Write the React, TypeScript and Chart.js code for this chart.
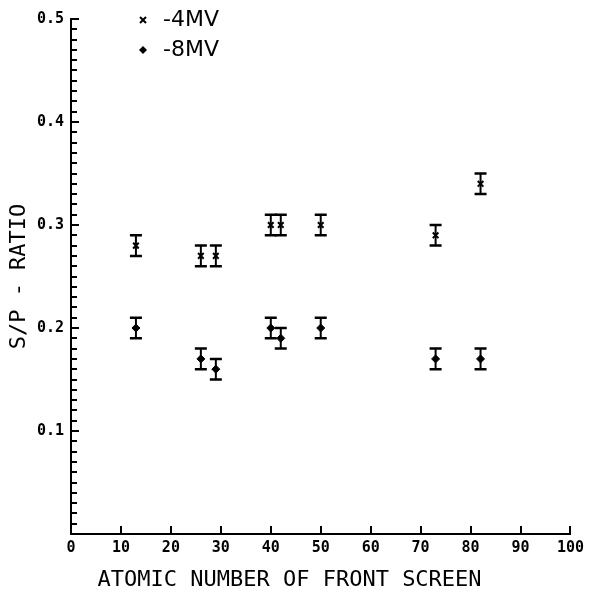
import React, { useEffect, useRef } from 'react';
import { Chart, registerables } from 'chart.js';

Chart.register(...registerables);

// ---- Data ----
const atomicNumbers = [13, 26, 29, 40, 42, 50, 73, 82];
const ratio4MV = [0.28, 0.27, 0.27, 0.30, 0.30, 0.30, 0.29, 0.34];
const ratio8MV = [0.20, 0.17, 0.16, 0.20, 0.19, 0.20, 0.17, 0.17];
const error4MV = [0.01, 0.01, 0.01, 0.01, 0.01, 0.01, 0.01, 0.01];
const error8MV = [0.01, 0.01, 0.01, 0.01, 0.01, 0.01, 0.01, 0.01];
const seriesLabels = ['-4MV', '-8MV'];
const xTitle = 'ATOMIC NUMBER OF FRONT SCREEN';
const yTitle = 'S/P - RATIO';

const INK = '#000000';

const isMajorY = (v: number) => Math.round(v * 100) % 10 === 0;

const errorBarPlugin = {
  id: 'errorBars',
  afterDatasetsDraw(chart: any) {
    const { ctx, scales } = chart;
    const x = scales.x;
    const y = scales.y;
    ctx.save();
    ctx.strokeStyle = INK;
    chart.data.datasets.forEach((ds: any) => {
      ds.data.forEach((p: any, i: number) => {
        const e = ds.errors[i];
        const px = x.getPixelForValue(p.x);
        const top = y.getPixelForValue(p.y + e);
        const bot = y.getPixelForValue(p.y - e);
        ctx.lineWidth = 2;
        ctx.beginPath();
        ctx.moveTo(px, top);
        ctx.lineTo(px, bot);
        ctx.stroke();
        ctx.lineWidth = 2.5;
        ctx.beginPath();
        ctx.moveTo(px - 6, top);
        ctx.lineTo(px + 6, top);
        ctx.moveTo(px - 6, bot);
        ctx.lineTo(px + 6, bot);
        ctx.stroke();
      });
    });
    ctx.restore();
  },
};

const inwardTicksPlugin = {
  id: 'inwardTicks',
  afterDraw(chart: any) {
    const { ctx, scales, chartArea } = chart;
    const x = scales.x;
    const y = scales.y;
    ctx.save();
    ctx.strokeStyle = INK;
    ctx.lineWidth = 2;
    ctx.beginPath();
    y.ticks.forEach((t: any) => {
      if (t.value <= 0) return;
      const py = Math.round(y.getPixelForValue(t.value));
      const len = isMajorY(t.value) ? 8 : 6;
      ctx.moveTo(chartArea.left, py);
      ctx.lineTo(chartArea.left + len, py);
    });
    x.ticks.forEach((t: any) => {
      if (t.value <= 0) return;
      const px = Math.round(x.getPixelForValue(t.value));
      ctx.moveTo(px, chartArea.bottom);
      ctx.lineTo(px, chartArea.bottom - 8);
    });
    ctx.stroke();
    ctx.restore();
  },
};

const legendPlugin = {
  id: 'inlineLegend',
  afterDraw(chart: any) {
    const { ctx, chartArea } = chart;
    const lx = chartArea.left + 72;
    const rows = [chartArea.top + 1, chartArea.top + 31];
    ctx.save();
    ctx.fillStyle = INK;
    ctx.strokeStyle = INK;
    ctx.lineWidth = 2;
    // cross marker
    ctx.beginPath();
    ctx.moveTo(lx - 3, rows[0] - 3);
    ctx.lineTo(lx + 3, rows[0] + 3);
    ctx.moveTo(lx + 3, rows[0] - 3);
    ctx.lineTo(lx - 3, rows[0] + 3);
    ctx.stroke();
    // diamond marker
    ctx.beginPath();
    ctx.moveTo(lx, rows[1] - 4);
    ctx.lineTo(lx + 4, rows[1]);
    ctx.lineTo(lx, rows[1] + 4);
    ctx.lineTo(lx - 4, rows[1]);
    ctx.closePath();
    ctx.fill();
    ctx.font = '22px "DejaVu Sans"';
    ctx.textBaseline = 'middle';
    ctx.textAlign = 'left';
    seriesLabels.forEach((lab, i) => ctx.fillText(lab, lx + 20, rows[i]));
    ctx.restore();
  },
};

export default function App() {
  const canvasRef = useRef<HTMLCanvasElement | null>(null);

  useEffect(() => {
    const canvas = canvasRef.current;
    if (!canvas) return;
    const tickFont = { family: '"DejaVu Sans Mono"', size: 15, weight: 'bold' as const };
    const titleFont = { family: '"DejaVu Sans Mono"', size: 22, weight: 'normal' as const };

    const chart = new Chart(canvas, {
      type: 'scatter',
      data: {
        datasets: [
          {
            label: seriesLabels[0],
            data: atomicNumbers.map((z, i) => ({ x: z, y: ratio4MV[i] })),
            errors: error4MV,
            pointStyle: 'crossRot',
            pointRadius: 4,
            borderWidth: 2,
            borderColor: INK,
            backgroundColor: INK,
          } as any,
          {
            label: seriesLabels[1],
            data: atomicNumbers.map((z, i) => ({ x: z, y: ratio8MV[i] })),
            errors: error8MV,
            pointStyle: 'rectRot',
            pointRadius: 4,
            borderWidth: 1,
            borderColor: INK,
            backgroundColor: INK,
          } as any,
        ],
      },
      options: {
        animation: false,
        responsive: false,
        layout: { padding: { left: 0, top: 19, right: 14, bottom: 0 } },
        plugins: {
          legend: { display: false },
          tooltip: { enabled: false },
        },
        scales: {
          x: {
            type: 'linear',
            position: 'bottom',
            min: 0,
            max: 100,
            grid: { display: false, drawTicks: false },
            border: { display: true, color: INK, width: 2 },
            ticks: {
              stepSize: 10,
              color: INK,
              font: tickFont,
              padding: 5,
              maxRotation: 0,
              autoSkip: false,
            },
            title: {
              display: true,
              text: '  ' + xTitle,
              align: 'start',
              color: INK,
              font: titleFont,
              padding: { top: 0, bottom: 0 },
            },
            afterFit: (scale: any) => {
              scale.height = 59;
            },
          },
          y: {
            type: 'linear',
            min: 0,
            max: 0.5,
            grid: { display: false, drawTicks: false },
            border: { display: true, color: INK, width: 2 },
            ticks: {
              stepSize: 0.01,
              autoSkip: false,
              color: INK,
              font: tickFont,
              padding: 7,
              callback: (v: any) => {
                const n = Number(v);
                return n > 0 && isMajorY(n) ? n.toFixed(1) : '';
              },
            },
            title: {
              display: true,
              text: yTitle,
              color: INK,
              font: titleFont,
              padding: { top: 6, bottom: 0 },
            },
            afterFit: (scale: any) => {
              scale.width = 71;
            },
          },
        },
      } as any,
      plugins: [errorBarPlugin, inwardTicksPlugin, legendPlugin],
    });

    return () => chart.destroy();
  }, []);

  return (
    <div style={{ position: 'fixed', left: 0, top: 0, width: 589, height: 593, background: '#ffffff' }}>
      <canvas ref={canvasRef} width={589} height={593} style={{ display: 'block' }} />
    </div>
  );
}
